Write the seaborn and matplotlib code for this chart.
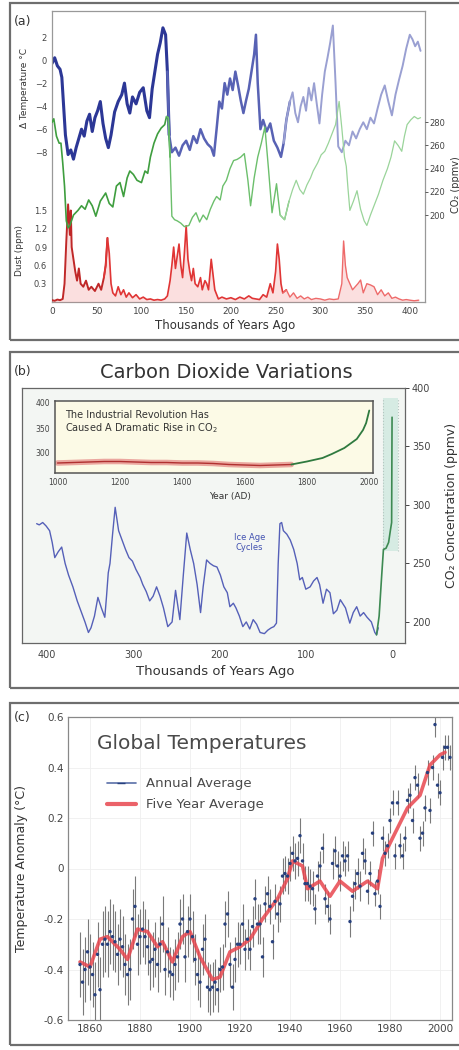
import numpy as np
import matplotlib
matplotlib.use("Agg")
import matplotlib.pyplot as plt
import seaborn as sns
from matplotlib.patches import Rectangle
from matplotlib.lines import Line2D

sns.set_style("white")
plt.rcParams['font.family'] = ['DejaVu Sans']

# ---------------- data: panel (a) Vostok ice core ----------------
temp_age = [0, 3, 6, 9, 11, 13, 15, 18, 21, 24,
            27, 30, 33, 36, 39, 42, 45, 48, 51, 54,
            57, 60, 63, 66, 70, 74, 78, 81, 84, 87,
            90, 94, 98, 102, 106, 109, 112, 115, 118, 121,
            124, 127, 129, 131, 134, 138, 142, 146, 150, 154,
            158, 162, 166, 170, 174, 178, 181, 184, 187, 190,
            193, 196, 199, 202, 205, 208, 211, 214, 217, 220,
            223, 226, 228, 230, 233, 236, 240, 244, 248, 252,
            256, 259, 262, 266, 269, 272, 275, 278, 281, 284,
            287, 290, 293, 296, 299, 302, 305, 308, 311, 314,
            317, 320, 324, 328, 332, 336, 340, 344, 348, 352,
            356, 360, 364, 368, 372, 376, 380, 384, 388, 392,
            396, 400, 403, 406, 409, 412]
temp_val = [-0.3, 0.2, -0.5, -0.8, -1.5, -4.0, -6.5, -8.2, -7.8, -8.6,
            -7.6, -6.8, -6.0, -6.6, -5.3, -4.7, -6.2, -5.0, -4.4, -3.6,
            -5.5, -6.8, -7.6, -6.5, -4.5, -3.6, -3.0, -2.0, -3.8, -4.6,
            -3.2, -3.8, -2.8, -2.4, -4.4, -5.0, -2.5, -1.0, 0.5, 1.5,
            2.8, 2.2, -1.0, -6.5, -8.0, -7.6, -8.3, -7.4, -7.0, -7.8,
            -6.6, -7.2, -6.0, -6.8, -7.3, -7.6, -8.3, -6.0, -3.6, -4.2,
            -2.0, -3.0, -1.6, -2.6, -1.0, -2.2, -3.5, -4.6, -3.5, -2.5,
            -1.0, 0.5, 2.2, -2.0, -6.0, -5.2, -6.2, -5.5, -7.0, -7.6,
            -8.4, -7.2, -5.2, -3.6, -2.8, -4.6, -5.4, -4.0, -3.2, -4.4,
            -2.4, -3.5, -2.0, -3.8, -5.5, -3.0, -1.0, 0.2, 1.5, 3.0,
            -2.0, -7.5, -8.0, -7.0, -7.4, -6.2, -6.8, -6.0, -5.4, -6.0,
            -5.0, -5.5, -4.2, -3.0, -2.2, -3.6, -4.8, -3.0, -1.7, -0.5,
            1.0, 2.2, 1.8, 1.2, 1.6, 0.8]

co2_age = [0, 2, 5, 8, 10, 12, 14, 16, 18, 20,
           24, 29, 33, 37, 41, 45, 49, 54, 60, 64,
           68, 72, 76, 80, 84, 87, 91, 95, 100, 104,
           107, 110, 114, 118, 122, 126, 128, 130, 132, 134,
           137, 140, 144, 148, 153, 157, 161, 165, 169, 173,
           177, 181, 184, 188, 191, 195, 199, 203, 207, 211,
           215, 219, 222, 226, 230, 234, 238, 242, 246, 251,
           255, 260, 265, 269, 273, 277, 281, 285, 289, 292,
           297, 301, 305, 309, 313, 317, 321, 324, 327, 329,
           331, 333, 337, 341, 345, 349, 352, 356, 360, 365,
           370, 375, 379, 383, 387, 391, 394, 397, 401, 405,
           409, 412]
co2_val = [280, 283, 268, 262, 262, 245, 225, 195, 189, 191,
           200, 204, 208, 205, 213, 208, 199, 212, 219, 210,
           207, 225, 228, 216, 232, 238, 235, 230, 228, 238,
           236, 250, 262, 270, 275, 278, 285, 284, 250, 199,
           196, 195, 193, 190, 191, 198, 202, 194, 200, 196,
           205, 212, 216, 213, 225, 230, 240, 247, 248, 250,
           253, 230, 208, 232, 250, 262, 276, 240, 202, 227,
           200, 196, 212, 222, 230, 222, 218, 226, 232, 238,
           245, 252, 255, 262, 270, 278, 298, 275, 250, 242,
           222, 204, 212, 221, 205, 195, 191, 200, 208, 218,
           230, 240, 250, 264, 260, 255, 268, 278, 282, 285,
           283, 284]

dust_age = [0, 3, 6, 9, 12, 14, 16, 18, 20, 21,
            22, 24, 26, 28, 30, 32, 35, 38, 41, 44,
            48, 52, 55, 58, 60, 62, 64, 66, 68, 71,
            74, 77, 80, 83, 86, 90, 94, 98, 102, 106,
            110, 114, 118, 122, 126, 129, 132, 134, 136, 138,
            140, 142, 144, 146, 148, 150, 152, 154, 156, 158,
            160, 163, 166, 168, 171, 173, 175, 178, 182, 186,
            190, 195, 200, 205, 210, 215, 220, 224, 228, 232,
            236, 240, 244, 247, 250, 252, 254, 256, 258, 262,
            266, 270, 274, 278, 282, 286, 290, 295, 300, 305,
            310, 315, 320, 324, 326, 328, 330, 333, 336, 339,
            342, 345, 348, 352, 356, 360, 364, 368, 372, 376,
            380, 384, 388, 392, 396, 400, 405, 410]
dust_val = [0.03, 0.02, 0.04, 0.03, 0.05, 0.3, 1.0, 1.6, 1.1, 1.5,
            0.9, 0.7, 0.5, 0.35, 0.55, 0.3, 0.25, 0.35, 0.2, 0.25,
            0.18, 0.3, 0.2, 0.4, 0.6, 1.05, 0.8, 0.3, 0.15, 0.1,
            0.25, 0.12, 0.2, 0.08, 0.15, 0.07, 0.12, 0.05, 0.08, 0.04,
            0.05, 0.03, 0.04, 0.03, 0.05, 0.1, 0.35, 0.6, 0.9, 0.55,
            0.75, 0.95, 0.6, 0.4, 0.8, 1.25, 0.7, 0.5, 0.35, 0.55,
            0.3, 0.25, 0.4, 0.2, 0.35, 0.3, 0.2, 0.7, 0.2, 0.05,
            0.08, 0.05, 0.07, 0.04, 0.08, 0.05, 0.1, 0.06, 0.05, 0.04,
            0.12, 0.08, 0.3, 0.15, 0.5, 0.95, 0.7, 0.3, 0.15, 0.2,
            0.08, 0.15, 0.06, 0.1, 0.05, 0.08, 0.04, 0.06, 0.05, 0.03,
            0.05, 0.04, 0.05, 0.3, 1.0, 0.6, 0.4, 0.3, 0.2, 0.25,
            0.3, 0.36, 0.15, 0.3, 0.28, 0.25, 0.12, 0.2, 0.1, 0.15,
            0.06, 0.08, 0.05, 0.03, 0.04, 0.03, 0.02, 0.03]

# ---------------- data: panel (b) ----------------
modern_age = [18, 15, 12, 10, 7, 4, 2, 0.5, 0]
modern_co2 = [189, 205, 240, 262, 263, 268, 278, 285, 375]
law_year = [1000, 1050, 1100, 1150, 1200, 1250, 1300, 1350, 1400, 1450,
            1500, 1550, 1600, 1650, 1700, 1750]
law_co2 = [280, 281, 282, 283, 283, 282, 281, 281, 280, 280,
           279, 277, 276, 275, 276, 277]
ind_year = [1750, 1800, 1850, 1880, 1920, 1960, 1980, 1990, 2000]
ind_co2 = [277, 283, 290, 298, 310, 328, 346, 360, 385]

# ---------------- data: panel (c) ----------------
ann_year = np.arange(1856, 2005)
ann_temp = [-0.38, -0.45, -0.40, -0.33, -0.39, -0.42, -0.50, -0.34, -0.48, -0.30,
            -0.28, -0.30, -0.25, -0.27, -0.29, -0.34, -0.28, -0.31, -0.38, -0.42,
            -0.40, -0.20, -0.15, -0.30, -0.27, -0.24, -0.27, -0.31, -0.37, -0.36,
            -0.32, -0.38, -0.30, -0.22, -0.40, -0.33, -0.41, -0.42, -0.38, -0.35,
            -0.22, -0.20, -0.35, -0.25, -0.20, -0.27, -0.36, -0.42, -0.45, -0.32,
            -0.28, -0.47, -0.48, -0.47, -0.45, -0.48, -0.40, -0.39, -0.22, -0.18,
            -0.38, -0.47, -0.36, -0.30, -0.30, -0.22, -0.32, -0.28, -0.32, -0.23,
            -0.12, -0.22, -0.22, -0.35, -0.14, -0.10, -0.15, -0.29, -0.13, -0.18,
            -0.14, -0.03, -0.02, -0.03, 0.02, 0.06, 0.03, 0.04, 0.13, 0.03,
            -0.06, -0.06, -0.07, -0.08, -0.16, -0.03, 0.01, 0.08, -0.12, -0.15,
            -0.20, 0.02, 0.07, 0.01, -0.03, 0.05, 0.03, 0.05, -0.21, -0.11,
            -0.06, -0.02, -0.07, 0.06, 0.03, -0.09, -0.02, 0.14, -0.10, -0.05,
            -0.15, 0.12, 0.06, 0.09, 0.19, 0.26, 0.05, 0.26, 0.09, 0.05,
            0.12, 0.27, 0.29, 0.19, 0.36, 0.33, 0.12, 0.14, 0.24, 0.38,
            0.23, 0.40, 0.57, 0.33, 0.30, 0.44, 0.48, 0.48, 0.44]
decade_err = [0.13, 0.13, 0.12, 0.11, 0.10, 0.10, 0.09, 0.08, 0.07,
              0.07, 0.06, 0.06, 0.05, 0.05, 0.05, 0.05]
fy_year = [1856, 1860, 1864, 1867, 1872, 1875, 1879, 1883, 1887, 1889,
           1893, 1897, 1900, 1904, 1909, 1912, 1916, 1920, 1924, 1929,
           1935, 1939, 1941, 1945, 1947, 1952, 1956, 1960, 1965, 1971,
           1975, 1977, 1981, 1987, 1992, 1996, 2000, 2002]
fy_val = [-0.37, -0.39, -0.28, -0.27, -0.32, -0.36, -0.24, -0.25, -0.31, -0.29,
          -0.37, -0.27, -0.25, -0.35, -0.44, -0.43, -0.33, -0.31, -0.28, -0.20,
          -0.12, -0.04, 0.03, 0.01, -0.08, -0.05, -0.11, -0.05, -0.09, -0.05,
          -0.08, 0.04, 0.12, 0.24, 0.29, 0.41, 0.45, 0.46]

# ---------------- figure ----------------
W, H = 460, 1050
fig = plt.figure(figsize=(W / 100, H / 100), dpi=100)
fig.patch.set_facecolor('white')


def axes_px(l, t, r, b, **kw):
    return fig.add_axes([l / W, 1 - b / H, (r - l) / W, (b - t) / H], **kw)


def frame_px(l, t, r, b, color='#6e6e6e', lw=1.6):
    fig.add_artist(Rectangle((l / W, 1 - b / H), (r - l) / W, (b - t) / H,
                             transform=fig.transFigure, fill=False,
                             edgecolor=color, lw=lw, clip_on=False))


def seg(ax, x, y, lo, hi, color, lw, alpha=1.0):
    x = np.asarray(x, float)
    y = np.asarray(y, float)
    idx = np.where((x >= lo) & (x <= hi))[0]
    i0 = max(idx[0] - 1, 0)
    i1 = min(idx[-1] + 1, len(x) - 1)
    sns.lineplot(x=x[i0:i1 + 1], y=y[i0:i1 + 1], ax=ax, color=color, lw=lw,
                 alpha=alpha, estimator=None, sort=False)


frame_px(10, 3, 470, 340)
frame_px(10, 352, 470, 688)
frame_px(10, 703, 470, 1045)

# ================= panel (a) =================
axT = axes_px(52, 11, 425, 302)
axD = axes_px(52, 11, 425, 302)
axC = axes_px(52, 11, 425, 302)
for a in (axD, axC):
    a.patch.set_visible(False)
    for s in a.spines.values():
        s.set_visible(False)
    a.tick_params(axis='x', bottom=False, labelbottom=False)
for s in axT.spines.values():
    s.set_color('#999999')
    s.set_linewidth(0.9)

# dust
dx = np.asarray(dust_age, float)
dy = np.asarray(dust_val, float)
axD.fill_between(dx, 0, dy, color='#f08080', alpha=0.25, lw=0)
seg(axD, dust_age, dust_val, 0, 60, '#c02828', 1.4)
seg(axD, dust_age, dust_val, 60, 260, '#e03535', 1.2)
seg(axD, dust_age, dust_val, 260, 420, '#ee6a6a', 1.0)

# CO2 (green)
seg(axC, co2_age, co2_val, 0, 130, '#3f9e3f', 1.2)
seg(axC, co2_age, co2_val, 130, 260, '#6cbf6c', 1.0)
seg(axC, co2_age, co2_val, 260, 420, '#9ad49a', 0.9)

# temperature (blue)
seg(axT, temp_age, temp_val, 0, 130, '#2c3796', 2.2)
seg(axT, temp_age, temp_val, 130, 262, '#5862b4', 1.8)
seg(axT, temp_age, temp_val, 262, 420, '#9aa0d2', 1.4)

for a in (axT, axD, axC):
    a.set_xlim(0, 417)
    a.set_xlabel('')
    a.set_ylabel('')
axT.set_ylim(-21.0, 4.26)
axD.set_ylim(0, 4.77)
axC.set_ylim(125, 376)
axT.set_yticks([2, 0, -2, -4, -6, -8])
axD.set_yticks([0.3, 0.6, 0.9, 1.2, 1.5])
axC.set_yticks([200, 220, 240, 260, 280])
axC.yaxis.tick_right()
axT.set_xticks([0, 50, 100, 150, 200, 250, 300, 350, 400])
for a in (axT, axD, axC):
    a.tick_params(labelsize=6, length=2, width=0.6, colors='#444444', pad=1.5)
axT.tick_params(axis='x', labelsize=6.5)
fig.text(225 / W, 1 - 326 / H, 'Thousands of Years Ago', ha='center',
         va='center', fontsize=8.5, color='#333333')
fig.text(25 / W, 1 - 88 / H, 'Δ Temperature °C', rotation=90, ha='center',
         va='center', fontsize=6.5, color='#333333')
fig.text(20 / W, 1 - 250 / H, 'Dust (ppm)', rotation=90, ha='center',
         va='center', fontsize=6.5, color='#333333')
fig.text(456 / W, 1 - 185 / H, 'CO₂ (ppmv)', rotation=90, ha='center',
         va='center', fontsize=7, color='#333333')
fig.text(14 / W, 1 - 21 / H, '(a)', ha='left', va='center', fontsize=9,
         color='#333333')

# ================= panel (b) =================
axB = axes_px(22, 388, 405, 643)
axB.set_facecolor('#f3f6f3')
for s in axB.spines.values():
    s.set_color('#666666')
    s.set_linewidth(0.9)
axB.set_xlim(429, -15)
axB.set_ylim(182, 400)
axB.axvspan(-7, 10, ymin=0.36, ymax=0.96, color='#cfe9df', alpha=0.8, lw=0)
axB.axvline(10, ymin=0.36, ymax=0.96, color='#b5c5c0', lw=0.8, ls=':')
axB.axvline(-7, ymin=0.36, ymax=0.96, color='#b5c5c0', lw=0.8, ls=':')
seg(axB, co2_age, co2_val, 18, 420, '#5560b8', 1.0)
sns.lineplot(x=modern_age, y=modern_co2, ax=axB, color='#3d8a52', lw=1.2,
             estimator=None, sort=False)
axB.yaxis.tick_right()
axB.set_yticks([200, 250, 300, 350, 400])
axB.set_xticks([400, 300, 200, 100, 0])
axB.tick_params(labelsize=7, length=3, width=0.7, colors='#444444', pad=2)
axB.tick_params(axis='y', direction='out')
axB.set_xlabel('')
axB.set_ylabel('')
axB.text(165, 268, 'Ice Age\nCycles', color='#4050b0', fontsize=6,
         ha='center', va='center', linespacing=1.1)
fig.text(215 / W, 1 - 672 / H, 'Thousands of Years Ago', ha='center',
         va='center', fontsize=9.5, color='#333333')
fig.text(452 / W, 1 - 505 / H, 'CO₂ Concentration (ppmv)', rotation=90,
         ha='center', va='center', fontsize=9, color='#333333')
fig.text(226 / W, 1 - 372 / H, 'Carbon Dioxide Variations', ha='center',
         va='center', fontsize=14, color='#333333')
fig.text(14 / W, 1 - 372 / H, '(b)', ha='left', va='center', fontsize=9,
         color='#333333')

# inset
axI = axes_px(55, 401, 373, 473)
axI.set_facecolor('#fcfae6')
for s in axI.spines.values():
    s.set_color('#555555')
    s.set_linewidth(1.1)
sns.lineplot(x=law_year, y=law_co2, ax=axI, color='#e07070', lw=4,
             alpha=0.6, estimator=None, sort=False)
sns.lineplot(x=law_year, y=law_co2, ax=axI, color='#b03030', lw=1.0,
             estimator=None, sort=False)
sns.lineplot(x=ind_year, y=ind_co2, ax=axI, color='#2f7a3f', lw=1.3,
             estimator=None, sort=False)
axI.set_xlim(992, 2012)
axI.set_ylim(260, 404)
axI.set_xticks([1000, 1200, 1400, 1600, 1800, 2000])
axI.set_yticks([300, 350, 400])
axI.tick_params(labelsize=5.5, length=2, width=0.6, colors='#444444', pad=1.5)
axI.set_xlabel('')
axI.set_ylabel('')
axI.text(0.03, 0.88, 'The Industrial Revolution Has\nCaused A Dramatic Rise in CO$_2$',
         transform=axI.transAxes, ha='left', va='top', fontsize=7,
         color='#333333', linespacing=1.15)
fig.text(230 / W, 1 - 497 / H, 'Year (AD)', ha='center', va='center',
         fontsize=6.5, color='#333333')

# ================= panel (c) =================
axG = axes_px(68, 717, 452, 1020)
for s in axG.spines.values():
    s.set_color('#888888')
    s.set_linewidth(0.9)
axG.grid(True, color='#efefef', lw=0.6)
axG.set_xlim(1851.2, 2004.8)
axG.set_ylim(-0.6, 0.6)
ann_t = np.asarray(ann_temp)
ann_e = np.asarray([decade_err[(y - 1850) // 10] for y in ann_year])
axG.vlines(ann_year, ann_t - ann_e, ann_t + ann_e, color='#7a7a7a', lw=0.8)
sns.lineplot(x=fy_year, y=fy_val, ax=axG, color='#e8474f', lw=2.6,
             alpha=0.85, estimator=None, sort=False)
sns.scatterplot(x=ann_year, y=ann_t, ax=axG, color='#27407e', s=6,
                edgecolor='none', zorder=3)
axG.set_xticks([1860, 1880, 1900, 1920, 1940, 1960, 1980, 2000])
axG.set_yticks([-0.6, -0.4, -0.2, 0, 0.2, 0.4, 0.6])
axG.set_yticklabels(['-0.6', '-0.4', '-0.2', '0', '0.2', '0.4', '0.6'])
axG.tick_params(labelsize=7.5, length=0, colors='#444444', pad=3)
axG.set_xlabel('')
axG.set_ylabel('')
axG.text(0.075, 0.914, 'Global Temperatures', transform=axG.transAxes,
         ha='left', va='center', fontsize=14.5, color='#4a4a4a')
handles = [Line2D([], [], color='#5a6fa8', lw=1.2, marker='_', markersize=6,
                  markeredgecolor='#27407e'),
           Line2D([], [], color='#e8474f', lw=3, alpha=0.85)]
leg = axG.legend(handles, ['Annual Average', 'Five Year Average'],
                 loc='upper left', bbox_to_anchor=(0.07, 0.84), frameon=False,
                 fontsize=9.5, handlelength=2.2, labelspacing=0.6)
for t in leg.get_texts():
    t.set_color('#4a4a4a')
fig.text(22 / W, 1 - 868 / H, 'Temperature Anomaly (°C)', rotation=90,
         ha='center', va='center', fontsize=9, color='#333333')
fig.text(14 / W, 1 - 718 / H, '(c)', ha='left', va='center', fontsize=9,
         color='#333333')

fig.savefig('out.png', dpi=100, facecolor='white')
